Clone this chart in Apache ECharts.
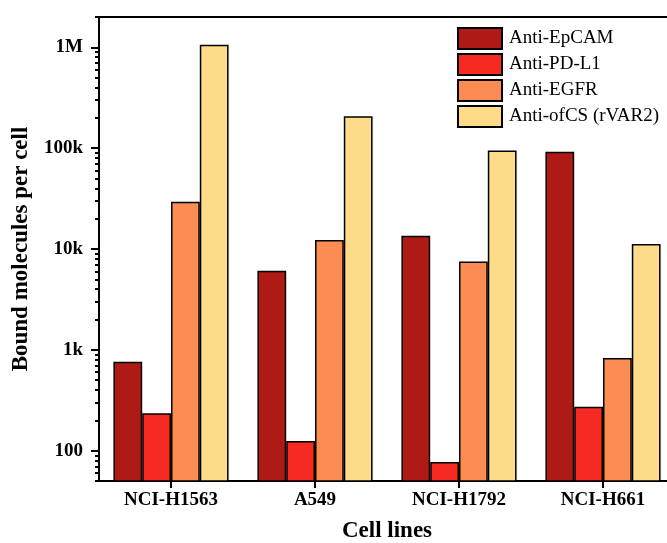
<!DOCTYPE html>
<html>
<head>
<meta charset="utf-8">
<script src="https://cdn.jsdelivr.net/npm/echarts@6/dist/echarts.min.js"></script>
<style>
  html, body { margin: 0; padding: 0; background: #fff; }
  #chart { width: 667px; height: 543px; }
</style>
</head>
<body>
<div id="chart"></div>
<script>
let cellLines = ['NCI-H1563', 'A549', 'NCI-H1792', 'NCI-H661']
let seriesNames = ['Anti-EpCAM', 'Anti-PD-L1', 'Anti-EGFR', 'Anti-ofCS (rVAR2)']
let epcam = [760, 6100, 13500, 92000]
let pdl1 = [235, 125, 77, 273]
let egfr = [29500, 12300, 7500, 830]
let ofcs = [1060000, 207000, 95000, 11200]
let colors = ['#b01a14', '#f72a21', '#fd8c52', '#fedb88']

let yMin = 50
let yMax = 2000000
let yTickValues = [100, 1000, 10000, 100000, 1000000]
let yTickLabels = ['100', '1k', '10k', '100k', '1M']
let yMinorValues = [
  50, 60, 70, 80, 90,
  200, 300, 400, 500, 600, 700, 800, 900,
  2000, 3000, 4000, 5000, 6000, 7000, 8000, 9000,
  20000, 30000, 40000, 50000, 60000, 70000, 80000, 90000,
  200000, 300000, 400000, 500000, 600000, 700000, 800000, 900000,
  2000000
]

let font = "'Liberation Serif', 'Times New Roman', serif"
let chart = echarts.init(document.getElementById('chart'))

let plotBox = { left: 99, top: 17, width: 576, height: 464, outerBoundsMode: 'none' }

// tick marks sit on extra value axes in log10 space, each in its own copy of the grid
function tickAxis(gridIndex, values, len) {
  return {
    type: 'value',
    gridIndex: gridIndex,
    position: 'left',
    min: Math.log10(yMin),
    max: Math.log10(yMax),
    axisLine: { show: true, lineStyle: { color: '#000', width: 2 } },
    axisLabel: { show: false },
    splitLine: { show: false },
    axisTick: {
      show: true,
      inside: false,
      customValues: values.map(v => Math.log10(v)),
      length: len,
      lineStyle: { color: '#000', width: 2, opacity: 1 }
    }
  }
}

function hiddenX(gridIndex) {
  return { type: 'category', gridIndex: gridIndex, data: cellLines, show: false }
}

let data = [epcam, pdl1, egfr, ofcs]

let option = {
  animation: false,
  textStyle: { fontFamily: font },
  grid: [
    Object.assign({ show: true, borderColor: '#000', borderWidth: 2 }, plotBox),
    Object.assign({}, plotBox),
    Object.assign({}, plotBox)
  ],
  legend: {
    orient: 'vertical',
    left: 457,
    top: 27,
    padding: 0,
    itemWidth: 44,
    itemHeight: 21,
    itemGap: 3,
    icon: 'rect',
    itemStyle: { borderColor: '#000', borderWidth: 2 },
    textStyle: { fontFamily: font, fontSize: 19, color: '#000', lineHeight: 21, padding: [0, 0, 0, 2] },
    data: seriesNames
  },
  xAxis: [
    {
      type: 'category',
      gridIndex: 0,
      data: cellLines,
      name: 'Cell lines',
      nameLocation: 'middle',
      nameGap: 39,
      nameTextStyle: { fontFamily: font, fontSize: 23, fontWeight: 'bold', color: '#000' },
      axisLine: { lineStyle: { color: '#000', width: 2 } },
      axisTick: { show: true, alignWithLabel: true, length: 7, lineStyle: { color: '#000', width: 2 } },
      axisLabel: { fontFamily: font, fontSize: 19, fontWeight: 'bold', color: '#000', margin: 10 }
    },
    hiddenX(1),
    hiddenX(2)
  ],
  yAxis: [
    {
      type: 'log',
      gridIndex: 0,
      logBase: 10,
      min: yMin,
      max: yMax,
      name: 'Bound molecules per cell',
      nameLocation: 'middle',
      nameGap: 62,
      nameTextStyle: { fontFamily: font, fontSize: 23, fontWeight: 'bold', color: '#000' },
      axisLine: { show: true, lineStyle: { color: '#000', width: 2 } },
      axisTick: { show: false },
      splitLine: { show: false },
      axisLabel: {
        fontFamily: font,
        fontSize: 19,
        fontWeight: 'bold',
        color: '#000',
        margin: 16,
        formatter: function (v) {
          for (let i = 0; i < yTickValues.length; i++) {
            if (Math.abs(v - yTickValues[i]) / yTickValues[i] < 1e-6) return yTickLabels[i]
          }
          return ''
        }
      }
    },
    tickAxis(1, yTickValues, 8),
    tickAxis(2, yMinorValues, 4)
  ],
  series: seriesNames.map((name, i) => ({
    name: name,
    type: 'bar',
    xAxisIndex: 0,
    yAxisIndex: 0,
    barGap: '0%',
    barCategoryGap: '20%',
    data: data[i],
    itemStyle: { color: colors[i], borderColor: '#000', borderWidth: 1.5 }
  }))
}

chart.setOption(option)
</script>
</body>
</html>
